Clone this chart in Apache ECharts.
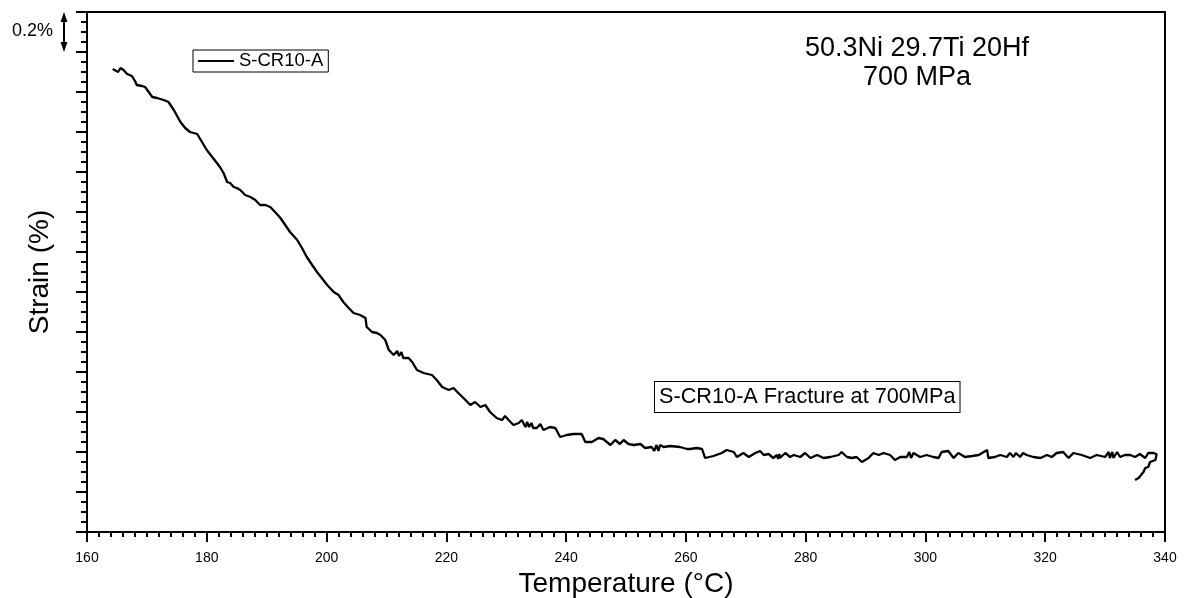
<!DOCTYPE html>
<html>
<head>
<meta charset="utf-8">
<script src="https://cdn.jsdelivr.net/npm/echarts@6/dist/echarts.min.js"></script>
<style>
html,body{margin:0;padding:0;background:#fff;}
#c{width:1187px;height:598px;}
</style>
</head>
<body>
<div id="c"></div>
<script>
// ---- data ----
const seriesName = 'S-CR10-A';
const xTickLabels = ['160','180','200','220','240','260','280','300','320','340'];
const temperature = [
164.3,165.2,165.6,166.1,166.7,167.5,168.1,168.3,169.2,169.7,170.3,170.9,171.7,172.8,173.6,174.5,175.6,176.4,177.2,178.4,
179.2,180.0,180.9,181.7,182.3,182.8,183.4,183.9,184.5,185.0,185.6,186.4,187.3,188.1,188.9,189.8,190.6,191.4,192.3,193.1,
193.9,195.1,195.9,196.7,197.6,198.4,199.2,200.1,201.2,202.0,202.8,203.7,204.5,205.6,206.5,206.7,207.6,208.4,209.0,209.8,
210.4,211.2,211.8,212.1,212.5,212.8,213.1,213.7,214.3,215.1,216.2,217.6,218.4,219.3,220.4,221.2,222.0,223.2,224.0,224.8,
225.7,226.5,227.3,228.4,229.3,229.8,230.4,231.2,232.1,232.6,233.2,233.5,233.8,234.2,234.5,235.1,235.7,236.2,237.3,238.2,
239.0,240.1,241.2,242.6,243.2,244.3,245.4,246.2,247.4,248.2,249.0,249.6,250.4,251.3,252.4,253.2,254.3,254.7,255.1,255.4,
255.7,256.3,257.4,259.0,260.2,260.7,261.8,262.7,263.2,264.6,266.0,266.8,268.0,268.5,269.6,270.5,271.6,272.4,273.0,273.8,
274.6,275.2,275.4,275.6,275.7,276.6,277.4,278.0,279.1,279.9,280.8,281.9,283.0,284.1,285.5,286.0,286.9,287.7,288.5,289.4,
290.5,291.3,292.2,293.0,294.1,294.9,295.8,296.9,297.3,297.6,298.0,298.3,299.1,300.2,301.3,302.2,302.7,303.8,304.7,305.5,
306.6,307.8,308.9,310.3,310.5,311.6,312.5,313.6,314.1,314.7,315.1,315.8,316.3,316.9,318.0,319.2,320.3,321.1,321.9,323.0,
323.9,324.7,326.1,327.5,328.6,330.0,330.6,330.8,331.2,331.4,332.0,332.5,333.3,334.2,335.0,335.8,336.7,337.2,338.1,338.6,
338.4,337.5,337.2,336.7,336.4,335.6,335.0
];
const strain = [
2.315,2.30,2.32,2.31,2.29,2.28,2.25,2.235,2.23,2.225,2.20,2.175,2.17,2.16,2.15,2.11,2.05,2.02,2.00,1.99,
1.95,1.91,1.875,1.845,1.82,1.795,1.75,1.745,1.725,1.72,1.71,1.685,1.675,1.66,1.635,1.635,1.625,1.60,1.57,1.535,
1.50,1.46,1.42,1.375,1.335,1.30,1.27,1.235,1.20,1.185,1.15,1.12,1.095,1.085,1.07,1.025,1.00,0.995,0.985,0.96,
0.91,0.885,0.905,0.88,0.90,0.87,0.86,0.87,0.85,0.81,0.795,0.785,0.76,0.725,0.71,0.72,0.695,0.66,0.635,0.65,
0.625,0.635,0.60,0.57,0.56,0.58,0.56,0.535,0.545,0.56,0.525,0.55,0.525,0.545,0.52,0.52,0.54,0.51,0.525,0.52,
0.475,0.485,0.49,0.49,0.45,0.45,0.47,0.465,0.435,0.46,0.44,0.46,0.44,0.435,0.44,0.42,0.425,0.405,0.435,0.405,
0.435,0.425,0.43,0.425,0.415,0.415,0.42,0.415,0.37,0.38,0.395,0.41,0.40,0.375,0.395,0.375,0.395,0.405,0.385,0.39,
0.37,0.385,0.365,0.39,0.37,0.395,0.375,0.385,0.375,0.395,0.37,0.385,0.37,0.375,0.385,0.40,0.375,0.37,0.375,0.35,
0.37,0.395,0.385,0.395,0.385,0.36,0.375,0.375,0.40,0.37,0.395,0.385,0.375,0.385,0.375,0.37,0.40,0.405,0.37,0.395,
0.375,0.38,0.385,0.41,0.37,0.375,0.385,0.375,0.395,0.375,0.395,0.375,0.395,0.385,0.375,0.37,0.385,0.375,0.395,0.40,
0.37,0.395,0.385,0.37,0.385,0.375,0.40,0.37,0.40,0.37,0.40,0.375,0.385,0.385,0.375,0.39,0.37,0.395,0.395,0.39,
0.36,0.35,0.325,0.32,0.30,0.27,0.26
];
const titleLines = ['50.3Ni 29.7Ti 20Hf', '700 MPa'];
const annotationText = 'S-CR10-A Fracture at 700MPa';
const scaleBarText = '0.2%';
const scaleBarSpan = 0.2;

// ---- chart ----
const FONT = '"Liberation Sans", Arial, sans-serif';
const chart = echarts.init(document.getElementById('c'));
const pts = temperature.map((t, i) => [t, strain[i]]);

chart.setOption({
  animation: false,
  backgroundColor: '#fff',
  textStyle: { fontFamily: FONT, color: '#000' },
  grid: { left: 87, right: 22, top: 12, bottom: 66, containLabel: false, outerBoundsMode: 'none',
          show: true, borderColor: '#000', borderWidth: 2, backgroundColor: 'transparent' },
  legend: {
    left: 193, top: 50,
    data: [{ name: seriesName, icon: 'path://M0,0 L36,0 L36,2 L0,2 Z' }],
    itemWidth: 36, itemHeight: 2, itemGap: 6,
    padding: [1, 5, 1, 5],
    borderColor: '#000', borderWidth: 1, borderRadius: 0,
    itemStyle: { color: '#000' },
    textStyle: { fontFamily: FONT, fontSize: 18.5, color: '#000', lineHeight: 20 }
  },
  xAxis: {
    type: 'value', min: 160, max: 340, interval: 20,
    name: 'Temperature (°C)', nameLocation: 'middle', nameGap: 33,
    nameTextStyle: { fontFamily: FONT, fontSize: 28, color: '#000' },
    axisLine: { show: true, onZero: false, lineStyle: { color: '#000', width: 2 } },
    axisTick: { show: true, inside: false, length: 10, lineStyle: { color: '#000', width: 2 } },
    minorTick: { show: true, splitNumber: 10, length: 5, lineStyle: { color: '#000', width: 2 } },
    axisLabel: { margin: 19, fontFamily: FONT, fontSize: 14, color: '#000',
      formatter: v => { const s = String(Math.round(v)); return xTickLabels.includes(s) ? s : ''; } },
    splitLine: { show: false }
  },
  yAxis: {
    type: 'value', min: 0, max: 2.6, interval: 0.2,
    name: 'Strain (%)', nameLocation: 'middle', nameGap: 33,
    nameTextStyle: { fontFamily: FONT, fontSize: 28, color: '#000' },
    axisLine: { show: true, onZero: false, lineStyle: { color: '#000', width: 2 } },
    axisTick: { show: true, inside: false, length: 11, lineStyle: { color: '#000', width: 2 } },
    minorTick: { show: true, splitNumber: 4, length: 6, lineStyle: { color: '#000', width: 2 } },
    axisLabel: { show: false },
    splitLine: { show: false }
  },
  series: [{
    name: seriesName, type: 'line', data: pts,
    showSymbol: false, symbol: 'none', smooth: false,
    lineStyle: { color: '#000', width: 2.3 },
    itemStyle: { color: '#000' }
  }]
});

// Annotations positioned from the axes
const yTop = chart.convertToPixel({ yAxisIndex: 0 }, 2.6);
const yBar = chart.convertToPixel({ yAxisIndex: 0 }, 2.6 - scaleBarSpan);
const ax = 64;
chart.setOption({
  graphic: [
    { type: 'text', x: 917, y: 34,
      style: { text: titleLines.join('\n'), fontFamily: FONT, fontSize: 27, lineHeight: 29, fill: '#000', align: 'center', verticalAlign: 'top' } },
    { type: 'text', x: 655, y: 382,
      style: { text: annotationText, fontFamily: FONT, fontSize: 21.7, lineHeight: 24, fill: '#000',
        backgroundColor: '#fff', borderColor: '#000', borderWidth: 1, padding: [3, 4, 3, 4] } },
    { type: 'text', x: 53, y: (yTop + yBar) / 2 - 1,
      style: { text: scaleBarText, fontFamily: FONT, fontSize: 18, fill: '#000', align: 'right', verticalAlign: 'middle' } },
    { type: 'line', shape: { x1: ax, y1: yTop + 6, x2: ax, y2: yBar - 6 }, style: { stroke: '#000', lineWidth: 2 } },
    { type: 'polygon', shape: { points: [[ax, yTop], [ax - 3.5, yTop + 10], [ax + 3.5, yTop + 10]] }, style: { fill: '#000' } },
    { type: 'polygon', shape: { points: [[ax, yBar], [ax - 3.5, yBar - 10], [ax + 3.5, yBar - 10]] }, style: { fill: '#000' } }
  ]
});
</script>
</body>
</html>
